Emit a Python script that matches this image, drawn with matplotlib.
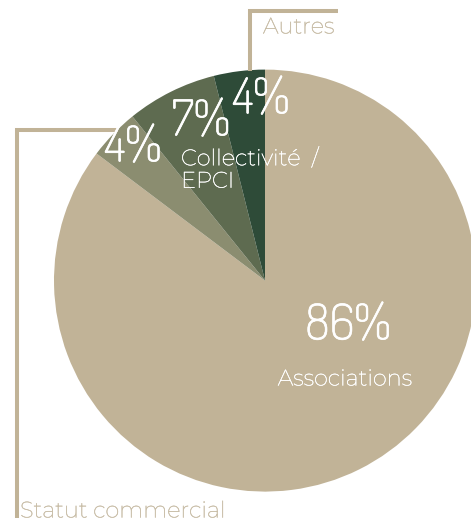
import matplotlib
matplotlib.use("Agg")
import matplotlib.pyplot as plt
import matplotlib.patheffects as pe

categories = ["Associations", "Statut commercial", "Collectivité  /\nEPCI", "Autres"]
values = [85.2, 3.9, 6.9, 3.9]
pct_labels = ["86%", "4%", "7%", "4%"]
colors = ["#c1b397", "#8b8d70", "#5e6b50", "#2e4b38"]

W, H = 471, 522
def Y(y):
    return H - y

fig = plt.figure(figsize=(W / 100, H / 100), dpi=100)
ax = fig.add_axes([0, 0, 1, 1])
ax.pie(values, colors=colors, startangle=90, counterclock=False,
       center=(265, Y(280.6)), radius=211, frame=True,
       wedgeprops=dict(linewidth=0))
ax.set_xlim(0, W)
ax.set_ylim(0, H)
ax.set_aspect("auto")
ax.axis("off")

line_c = "#c1b397"
text_c = "#c9bea8"
pfont = "Dosis"
lfont = "Montserrat"
lsize = 16.2
psize = 35.5

def thick(c, w=0.3):
    return [pe.withStroke(linewidth=w, foreground=c)]

# leader lines
ax.plot([249.7, 249.7, 338], [Y(71), Y(11.3), Y(11.3)], color=line_c, lw=2.9,
        solid_joinstyle="miter", solid_capstyle="butt")
ax.plot([118, 17, 17], [Y(129.5), Y(129.5), Y(518)], color=line_c, lw=2.9,
        solid_joinstyle="miter", solid_capstyle="butt")

# outside labels
ax.text(263, Y(27), categories[3], color=text_c, fontsize=lsize, family=lfont,
        ha="left", va="center", path_effects=thick(text_c))
ax.text(20, Y(511), categories[1], color=text_c, fontsize=lsize, family=lfont,
        ha="left", va="center", path_effects=thick(text_c))

# inside labels
ax.text(345, Y(379), categories[0], color="white", fontsize=lsize, family=lfont,
        ha="center", va="center", path_effects=thick("white"))
ax.text(181, Y(169.5), categories[2], color="white", fontsize=lsize, family=lfont,
        ha="left", va="center", linespacing=1.08, path_effects=thick("white"))

# percentages
for (x, y), lab in zip([(348, 326), (133, 148), (201, 122), (261, 100)], pct_labels):
    ax.text(x, Y(y), lab, color="white", fontsize=psize, family=pfont,
            ha="center", va="center", path_effects=thick("white", 0.5))

fig.savefig("out.png", dpi=100)
